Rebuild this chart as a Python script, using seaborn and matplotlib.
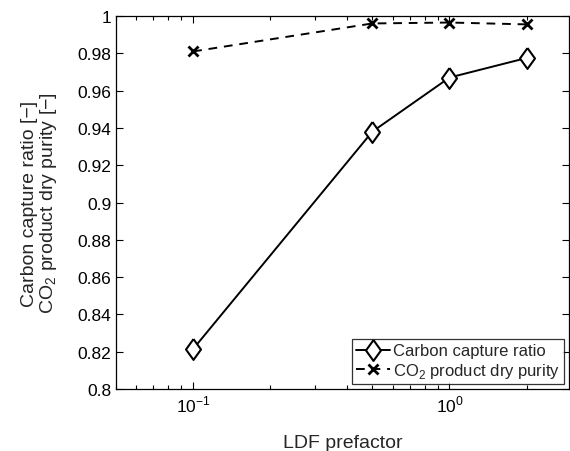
import numpy as np
import pandas as pd
import matplotlib
matplotlib.use('Agg')
import matplotlib.pyplot as plt
import seaborn as sns

ldf = [0.1, 0.5, 1.0, 2.0]
captura = [0.8215, 0.938, 0.967, 0.9775]
pureza = [0.981, 0.996, 0.9965, 0.9955]

sns.set_style('ticks')
plt.rcParams['font.family'] = ['Liberation Sans', 'DejaVu Sans']
plt.rcParams['mathtext.fontset'] = 'custom'
plt.rcParams['mathtext.rm'] = 'Liberation Sans'

df = pd.DataFrame({'ldf': ldf, 'captura': captura, 'pureza': pureza})

# rombo alto como el de matlab
rombo = [(0, 1), (0.72, 0), (0, -1), (-0.72, 0), (0, 1)]

fig = plt.figure(figsize=(5.7, 4.52), dpi=100)
ax = fig.add_axes([0.2035, 0.137, 0.795, 0.8254])

sns.lineplot(data=df, x='ldf', y='captura', ax=ax, color='black', lw=1.4,
             marker=rombo, markersize=15, markerfacecolor='white',
             markeredgecolor='black', markeredgewidth=1.5,
             label='Carbon capture ratio')
sns.lineplot(data=df, x='ldf', y='pureza', ax=ax, color='black', lw=1.4,
             linestyle=(0, (4.5, 3.5)), marker='x', markersize=7,
             markeredgecolor='black', markeredgewidth=2.0,
             label='CO$_2$ product dry purity')

ax.set_xscale('log')
ax.set_xlim(0.05, 2.93)
ax.set_ylim(0.8, 1.0)
ax.set_yticks(np.arange(0.8, 1.001, 0.02))
ax.set_yticklabels(['0.8', '0.82', '0.84', '0.86', '0.88', '0.9', '0.92',
                    '0.94', '0.96', '0.98', '1'])
ax.set_xticks([0.1, 1.0])
ax.set_xticklabels(['10$^{-1}$', '10$^{0}$'])

ax.tick_params(which='both', direction='in', top=True, right=True,
               labelsize=12.5, colors='black')
ax.tick_params(which='major', length=5, width=0.8)
ax.tick_params(which='minor', length=3, width=0.8)
for s in ax.spines.values():
    s.set_color('black')
    s.set_linewidth(0.9)

ax.set_xlabel('LDF prefactor', fontsize=14, labelpad=14)
ax.set_ylabel('Carbon capture ratio [\u2212]\nCO$_2$ product dry purity [\u2212]',
              fontsize=14, labelpad=13, linespacing=1.0)

leg = ax.legend(loc='lower right', bbox_to_anchor=(1.0, 0.0),
                borderaxespad=0.3, fontsize=12, frameon=True,
                fancybox=False, edgecolor='black', handlelength=2.0,
                handletextpad=0.2, borderpad=0.25, labelspacing=0.15)
leg.get_frame().set_linewidth(0.9)

fig.savefig('out.png', dpi=100)
